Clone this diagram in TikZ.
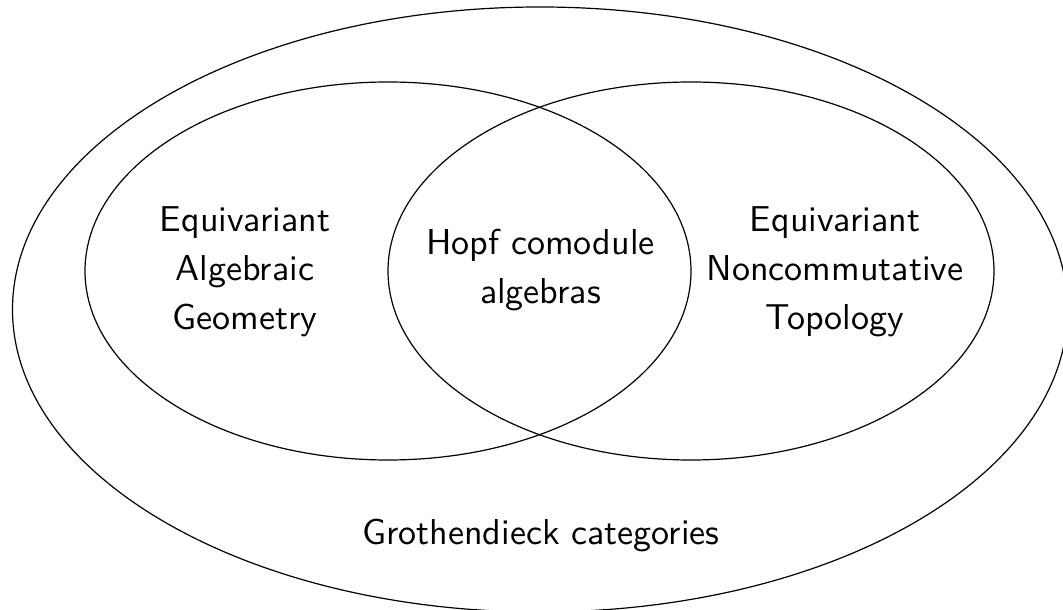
\documentclass[tikz,border=0pt]{standalone}
\usepackage{fontspec}
\setsansfont{lmsans10-regular.otf}
\begin{document}
\begin{tikzpicture}[x=1pt,y=1pt,
  setshape/.style={draw=black,line width=1.2pt},
  lbl/.style={font=\sffamily\fontsize{36}{49}\selectfont,align=center,inner sep=0pt}]
\useasboundingbox (0,0) rectangle (1063,610);
\clip (0,0) rectangle (1063,610);
\draw[setshape] (540,300.5) ellipse [x radius=527.5, y radius=302.5];
\draw[setshape] (388,339) ellipse [x radius=303, y radius=189];
\draw[setshape] (691,339) ellipse [x radius=303, y radius=189];
\node[lbl] (aag) at (245,338) {Equivariant\\Algebraic\\Geometry};
\node[lbl] (hopf) at (540.5,339.5) {Hopf comodule\\algebras};
\node[lbl] (nct) at (835,338) {Equivariant\\Noncommutative\\Topology};
\node[lbl,anchor=base] (groth) at (541,65) {Grothendieck categories};
\end{tikzpicture}
\end{document}
